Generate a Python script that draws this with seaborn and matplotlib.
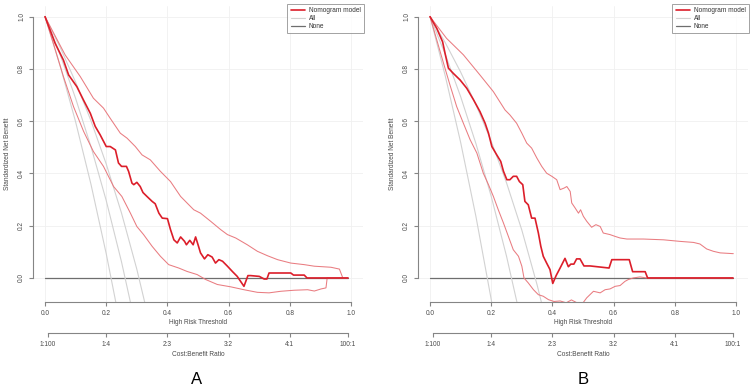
import numpy as np
import pandas as pd
import matplotlib
matplotlib.use("Agg")
import matplotlib.pyplot as plt
from matplotlib.lines import Line2D
import seaborn as sns

# ---------------- data ----------------
# Panel A
A_model_x = [0, 0.033, 0.06, 0.077, 0.104, 0.126, 0.148, 0.164, 0.18, 0.2, 0.213, 0.23, 0.24, 0.25, 0.266,
             0.273, 0.284, 0.29, 0.3, 0.311, 0.32, 0.333, 0.35, 0.36, 0.372, 0.383, 0.4, 0.41, 0.421, 0.432,
             0.443, 0.456, 0.462, 0.473, 0.484, 0.492, 0.5, 0.508, 0.521, 0.532, 0.546, 0.557, 0.568, 0.58,
             0.596, 0.612, 0.628, 0.639, 0.65, 0.663, 0.672, 0.7, 0.716, 0.725, 0.732, 0.76, 0.803, 0.812,
             0.847, 0.856, 0.99]
A_model_y = [1.0, 0.898, 0.834, 0.777, 0.732, 0.68, 0.63, 0.58, 0.548, 0.503, 0.503, 0.49, 0.44, 0.427, 0.427,
             0.408, 0.363, 0.357, 0.366, 0.35, 0.327, 0.312, 0.293, 0.284, 0.248, 0.229, 0.227, 0.185, 0.146, 0.134,
             0.157, 0.14, 0.127, 0.144, 0.127, 0.157, 0.127, 0.096, 0.073, 0.089, 0.08, 0.057, 0.07, 0.064,
             0.045, 0.025, 0.006, -0.013, -0.032, 0.009, 0.009, 0.006, -0.004, -0.004, 0.019, 0.019, 0.019, 0.011,
             0.011, 0.0, 0.0]
A_upper_x = [0, 0.066, 0.115, 0.158, 0.191, 0.213, 0.246, 0.268, 0.295, 0.317, 0.344, 0.377, 0.41, 0.443, 0.464,
             0.486, 0.508, 0.541, 0.574, 0.596, 0.623, 0.661, 0.694, 0.727, 0.76, 0.803, 0.847, 0.88, 0.934, 0.962,
             0.973]
A_upper_y = [1.0, 0.853, 0.771, 0.688, 0.65, 0.611, 0.554, 0.535, 0.503, 0.471, 0.452, 0.408, 0.369, 0.312, 0.287,
             0.261, 0.248, 0.217, 0.185, 0.166, 0.153, 0.127, 0.102, 0.085, 0.07, 0.057, 0.051, 0.045, 0.041, 0.034,
             0.0]
A_lower_x = [0, 0.027, 0.06, 0.093, 0.126, 0.158, 0.191, 0.224, 0.251, 0.279, 0.3, 0.322, 0.35, 0.377, 0.404,
             0.437, 0.464, 0.497, 0.525, 0.563, 0.607, 0.65, 0.694, 0.732, 0.77, 0.814, 0.858, 0.88, 0.902, 0.918,
             0.922, 0.99]
A_lower_y = [1.0, 0.898, 0.771, 0.656, 0.561, 0.484, 0.427, 0.35, 0.312, 0.248, 0.197, 0.166, 0.121, 0.083, 0.051,
             0.038, 0.025, 0.013, -0.006, -0.025, -0.034, -0.045, -0.055, -0.057, -0.051, -0.047, -0.045, -0.05,
             -0.042, -0.038, 0.0, 0.0]
A_all1_x = [0, 0.05, 0.1, 0.15, 0.2, 0.235]
A_all1_y = [1.0, 0.809, 0.597, 0.359, 0.0925, -0.115]
A_all2_x = [0, 0.05, 0.1, 0.15, 0.2, 0.25, 0.29]
A_all2_y = [1.0, 0.852, 0.687, 0.503, 0.296, 0.061, -0.151]
A_all3_x = [0, 0.05, 0.1, 0.15, 0.2, 0.25, 0.3, 0.34]
A_all3_y = [1.0, 0.881, 0.749, 0.602, 0.436, 0.248, 0.033, -0.163]

# Panel B
B_model_x = [0, 0.022, 0.041, 0.049, 0.06, 0.076, 0.098, 0.12, 0.142, 0.163, 0.18, 0.191, 0.202, 0.218, 0.231,
             0.24, 0.251, 0.261, 0.272, 0.283, 0.292, 0.303, 0.31, 0.321, 0.332, 0.343, 0.354, 0.362, 0.37, 0.381,
             0.392, 0.401, 0.412, 0.425, 0.441, 0.452, 0.46, 0.47, 0.479, 0.49, 0.503, 0.523, 0.585, 0.594, 0.651,
             0.662, 0.703, 0.711, 0.99]
B_model_y = [1.0, 0.955, 0.904, 0.86, 0.803, 0.783, 0.758, 0.726, 0.682, 0.637, 0.592, 0.554, 0.503, 0.471, 0.446,
             0.408, 0.376, 0.376, 0.389, 0.389, 0.369, 0.357, 0.293, 0.28, 0.229, 0.229, 0.172, 0.121, 0.083, 0.057,
             0.032, -0.021, 0.009, 0.038, 0.075, 0.043, 0.053, 0.053, 0.073, 0.073, 0.046, 0.046, 0.038, 0.07, 0.07,
             0.024, 0.024, 0.0, 0.0]
B_upper_x = [0, 0.054, 0.109, 0.163, 0.207, 0.245, 0.261, 0.283, 0.3, 0.316, 0.332, 0.349, 0.365, 0.381, 0.398,
             0.414, 0.425, 0.438, 0.447, 0.458, 0.463, 0.474, 0.485, 0.492, 0.501, 0.512, 0.528, 0.542, 0.556, 0.566,
             0.588, 0.605, 0.621, 0.643, 0.697, 0.763, 0.817, 0.861, 0.882, 0.904, 0.926, 0.948, 0.991]
B_upper_y = [1.0, 0.917, 0.854, 0.777, 0.713, 0.643, 0.624, 0.592, 0.554, 0.516, 0.497, 0.459, 0.427, 0.401, 0.389,
             0.376, 0.338, 0.344, 0.35, 0.331, 0.287, 0.268, 0.248, 0.261, 0.236, 0.217, 0.194, 0.204, 0.197, 0.172,
             0.166, 0.159, 0.153, 0.149, 0.149, 0.146, 0.14, 0.136, 0.13, 0.111, 0.102, 0.096, 0.093]
B_lower_x = [0, 0.022, 0.044, 0.065, 0.087, 0.109, 0.131, 0.153, 0.174, 0.191, 0.207, 0.223, 0.24, 0.256, 0.272,
             0.289, 0.3, 0.307, 0.321, 0.338, 0.354, 0.37, 0.387, 0.405, 0.425, 0.445, 0.462, 0.48, 0.5, 0.512,
             0.534, 0.556, 0.572, 0.588, 0.605, 0.621, 0.637, 0.648, 0.664, 0.686, 0.708, 0.99]
B_lower_y = [1.0, 0.911, 0.822, 0.739, 0.656, 0.592, 0.529, 0.478, 0.401, 0.357, 0.312, 0.261, 0.21, 0.159, 0.108,
             0.083, 0.045, 0.0, -0.019, -0.045, -0.064, -0.07, -0.083, -0.09, -0.088, -0.095, -0.084, -0.095, -0.095,
             -0.076, -0.051, -0.057, -0.045, -0.042, -0.032, -0.029, -0.013, -0.006, 0.0, 0.004, 0.0, 0.0]
B_all1_x = [0, 0.05, 0.1, 0.15, 0.2, 0.21]
B_all1_y = [1.0, 0.772, 0.519, 0.235, -0.083, -0.152]
B_all2_x = [0, 0.05, 0.1, 0.15, 0.2, 0.25, 0.29]
B_all2_y = [1.0, 0.855, 0.694, 0.514, 0.312, 0.083, -0.124]
B_all3_x = [0, 0.05, 0.1, 0.15, 0.2, 0.25, 0.3, 0.35, 0.38]
B_all3_y = [1.0, 0.9, 0.788, 0.663, 0.523, 0.364, 0.183, -0.027, -0.169]

none_x = [0, 0.99]
none_y = [0.0, 0.0]

x_ticks = [0.0, 0.2, 0.4, 0.6, 0.8, 1.0]
x_tick_labels = ["0.0", "0.2", "0.4", "0.6", "0.8", "1.0"]
y_ticks = [0.0, 0.2, 0.4, 0.6, 0.8, 1.0]
y_tick_labels = ["0.0", "0.2", "0.4", "0.6", "0.8", "1.0"]
cb_ticks = [0.0099, 0.2, 0.4, 0.6, 0.8, 0.99]
cb_labels = ["1:100", "1:4", "2:3", "3:2", "4:1", "100:1"]
legend_labels = ["Nomogram model", "All", "None"]
panel_letters = ["A", "B"]

# ---------------- style ----------------
sns.set_style("white")
plt.rcParams["font.family"] = ["Liberation Sans", "DejaVu Sans"]

RED = "#DC1E2A"
RED_CI = "#E8757A"
GRAY_ALL = "#D2D2D2"
GRAY_NONE = "#6E6E6E"
AX_COL = "#858585"
TXT_COL = "#4A4A4A"
FS = 4.7

fig = plt.figure(figsize=(7.53, 3.90), dpi=100)
W, H = 753.0, 390.0
bottom = 1 - 302.0 / H
height = 296.3 / H
axA = fig.add_axes([32.8 / W, bottom, 330.5 / W, height])
axB = fig.add_axes([417.8 / W, bottom, 330.5 / W, height])


def line(ax, xs, ys, color, lw, alpha=1.0):
    df = pd.DataFrame({"x": xs, "y": ys})
    sns.lineplot(data=df, x="x", y="y", ax=ax, sort=False, estimator=None,
                 color=color, linewidth=lw, alpha=alpha, legend=False)


def panel(ax, model, upper, lower, alls, letter_x, letter):
    ax.set_xlim(-0.04, 1.04)
    ax.set_ylim(-0.092, 1.042)
    ax.set_xticks(x_ticks)
    ax.set_xticklabels(x_tick_labels)
    ax.set_yticks(y_ticks)
    ax.set_yticklabels(y_tick_labels, rotation=90, va="center", ha="center")
    ax.grid(True, color="#F0F0F0", linewidth=0.6)
    ax.set_axisbelow(True)

    line(ax, none_x, none_y, GRAY_NONE, 0.9)
    for xs, ys in alls:
        line(ax, xs, ys, GRAY_ALL, 0.8)
    line(ax, upper[0], upper[1], RED_CI, 0.75, 0.95)
    line(ax, lower[0], lower[1], RED_CI, 0.75, 0.95)
    line(ax, model[0], model[1], RED, 1.2)

    for s in ["top", "right"]:
        ax.spines[s].set_visible(False)
    for s in ["left", "bottom"]:
        ax.spines[s].set_color(AX_COL)
        ax.spines[s].set_linewidth(0.8)
        ax.spines[s].set_bounds(0, 1)
    ax.tick_params(direction="out", length=3, width=0.8, color=AX_COL,
                   labelcolor=TXT_COL, labelsize=FS, pad=3,
                   bottom=True, left=True)
    ax.tick_params(axis="y", pad=5)
    ax.set_xlabel("High Risk Threshold", fontsize=FS, color=TXT_COL, labelpad=1.5)
    ax.set_ylabel("Standardized Net Benefit", fontsize=FS, color=TXT_COL, va="center")
    ax.yaxis.set_label_coords(-0.078, 0.5)

    sec = ax.secondary_xaxis(-0.105)
    sec.set_xticks(cb_ticks)
    sec.set_xticklabels(cb_labels)
    sec.spines["bottom"].set_bounds(cb_ticks[0], cb_ticks[-1])
    sec.spines["bottom"].set_color(AX_COL)
    sec.spines["bottom"].set_linewidth(0.8)
    sec.tick_params(direction="out", length=3, width=0.8, color=AX_COL,
                    labelcolor=TXT_COL, labelsize=FS, pad=3)
    sec.set_xlabel("Cost:Benefit Ratio", fontsize=FS, color=TXT_COL, labelpad=1.5)

    handles = [Line2D([], [], color=RED, lw=1.2),
               Line2D([], [], color=GRAY_ALL, lw=0.8),
               Line2D([], [], color=GRAY_NONE, lw=0.9)]
    leg = ax.legend(handles, legend_labels, loc="upper right",
                    bbox_to_anchor=(1.002, 1.006), borderaxespad=0,
                    fontsize=FS, frameon=True, fancybox=False,
                    edgecolor="#8A8A8A", handlelength=2.2, handletextpad=0.6,
                    labelspacing=0.15, borderpad=0.5)
    leg.get_frame().set_linewidth(0.7)
    for t in leg.get_texts():
        t.set_color("#333333")

    fig.text(letter_x / W, 1 - 380.0 / H, letter, fontsize=12,
             ha="center", va="center", color="black")


panel(axA, (A_model_x, A_model_y), (A_upper_x, A_upper_y), (A_lower_x, A_lower_y),
      [(A_all1_x, A_all1_y), (A_all2_x, A_all2_y), (A_all3_x, A_all3_y)], 197, panel_letters[0])
panel(axB, (B_model_x, B_model_y), (B_upper_x, B_upper_y), (B_lower_x, B_lower_y),
      [(B_all1_x, B_all1_y), (B_all2_x, B_all2_y), (B_all3_x, B_all3_y)], 583, panel_letters[1])

fig.savefig("out.png", dpi=100, facecolor="white")
